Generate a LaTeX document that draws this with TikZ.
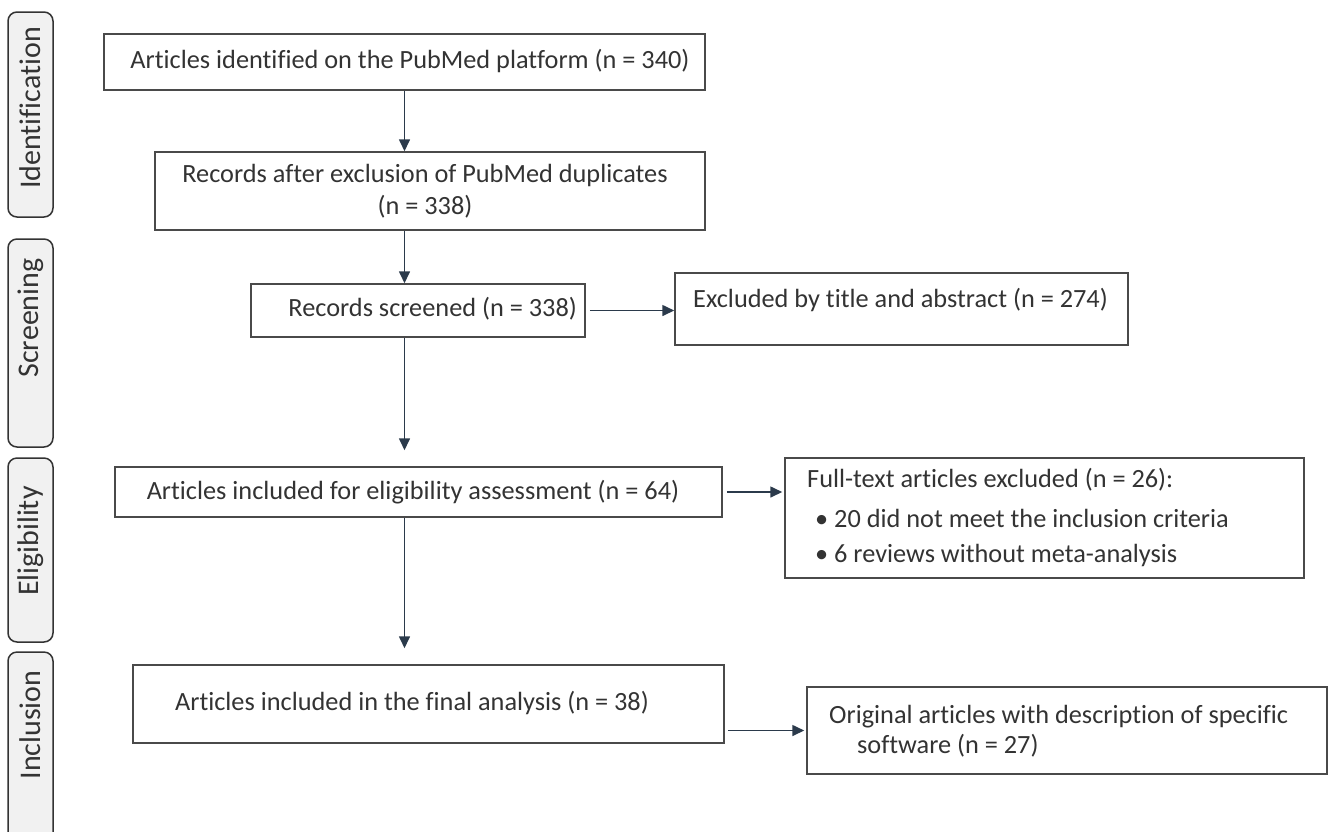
\documentclass[tikz,border=0pt]{standalone}
\usepackage{fontspec}
\setmainfont[Ligatures=NoCommon]{Carlito}
\usetikzlibrary{arrows.meta,calc}
\definecolor{boxline}{HTML}{4A4A4A}
\definecolor{arrowc}{HTML}{2B3A4B}
\definecolor{txt}{HTML}{333333}
\definecolor{phasefill}{HTML}{F1F1F1}
\begin{document}
\begin{tikzpicture}[x=1pt,y=-1pt,
  box/.style={draw=boxline, line width=1.5pt, fill=white, inner sep=0pt},
  phase/.style={draw=black!80, line width=1.5pt, fill=phasefill, rounded corners=9pt, inner sep=0pt, minimum width=45pt},
  phasetext/.style={rotate=90, font=\fontsize{30}{34}\selectfont, text=txt, inner sep=0pt},
  txtnode/.style={font=\fontsize{26.3}{32}\selectfont, text=txt, inner sep=0pt},
  arr/.style={draw=arrowc, line width=1.6pt, -{Triangle[length=12pt,width=11pt]}}]
\useasboundingbox (0,0) rectangle (1330,831);
% phase labels
\node[phase, minimum height=205pt] (pid) at (30.5,114.5) {};
\node[phasetext] (tid) at (30.5,108) {Identification};
\node[phase, minimum height=208pt] (psc) at (30.5,343) {};
\node[phasetext] (tsc) at (30.5,318) {Screening};
\node[phase, minimum height=184pt] (pel) at (30.5,550) {};
\node[phasetext] (tel) at (30.5,541) {Eligibility};
\node[phase, minimum height=200pt] (pin) at (30.5,752) {};
\node[phasetext] (tin) at (30.5,725) {Inclusion};
% boxes
\node[box, minimum width=601pt, minimum height=56pt] (b1) at (404.5,62) {};
\node[txtnode] (t1) at (410,61) {Articles identified on the PubMed platform (n = 340)};
\node[box, minimum width=550pt, minimum height=78pt] (b2) at (430,191) {};
\node[txtnode, align=center] (t2) at (425,191) {Records after exclusion of PubMed duplicates\\(n = 338)};
\node[box, minimum width=334pt, minimum height=53pt] (b3) at (418,310.5) {};
\node[txtnode, anchor=east] (t3) at (577,309) {Records screened (n = 338)};
\node[box, minimum width=453pt, minimum height=72pt] (b4) at (901.5,309) {};
\node[txtnode, anchor=west] (t4) at (693,300) {Excluded by title and abstract (n = 274)};
\node[box, minimum width=607pt, minimum height=50pt] (b5) at (418.5,492) {};
\node[txtnode] (t5) at (413,492) {Articles included for eligibility assessment (n = 64)};
\node[box, minimum width=519pt, minimum height=120pt] (b6) at (1044.5,518) {};
\node[txtnode, anchor=west] (t6a) at (807,480) {Full-text articles excluded (n = 26):};
\node[txtnode, anchor=west] (t6b) at (815,518) {\makebox[19pt][l]{•}20 did not meet the inclusion criteria};
\node[txtnode, anchor=west] (t6c) at (815,555) {\makebox[19pt][l]{•}6 reviews without meta-analysis};
\node[box, minimum width=591pt, minimum height=78pt] (b7) at (428.5,704) {};
\node[txtnode] (t7) at (412,703) {Articles included in the final analysis (n = 38)};
\node[box, minimum width=520pt, minimum height=87pt] (b8) at (1067,730.5) {};
\node[txtnode, anchor=west, align=left, font=\fontsize{26.3}{30}\selectfont] (t8) at (829,731) {Original articles with description of specific\\\hspace{28pt}software (n = 27)};
% connectors
\draw[arr] (b1.south) -- (b1.south |- b2.north);
\draw[arr] (b1.south |- b2.south) -- (b1.south |- b3.north);
\draw[arr, shorten <=4pt] (b3.east) -- (b4.west |- b3.east);
\draw[arr, shorten >=16pt] (b1.south |- b3.south) -- (b1.south |- b5.north);
\draw[arr, shorten <=4pt, shorten >=2pt] (b5.east) -- (b6.west |- b5.east);
\draw[arr, shorten >=16pt] (b1.south |- b5.south) -- (b1.south |- b7.north);
\draw[arr, shorten <=3pt, shorten >=2pt] (b7.east |- b8.west) -- (b8.west);
\end{tikzpicture}
\end{document}
